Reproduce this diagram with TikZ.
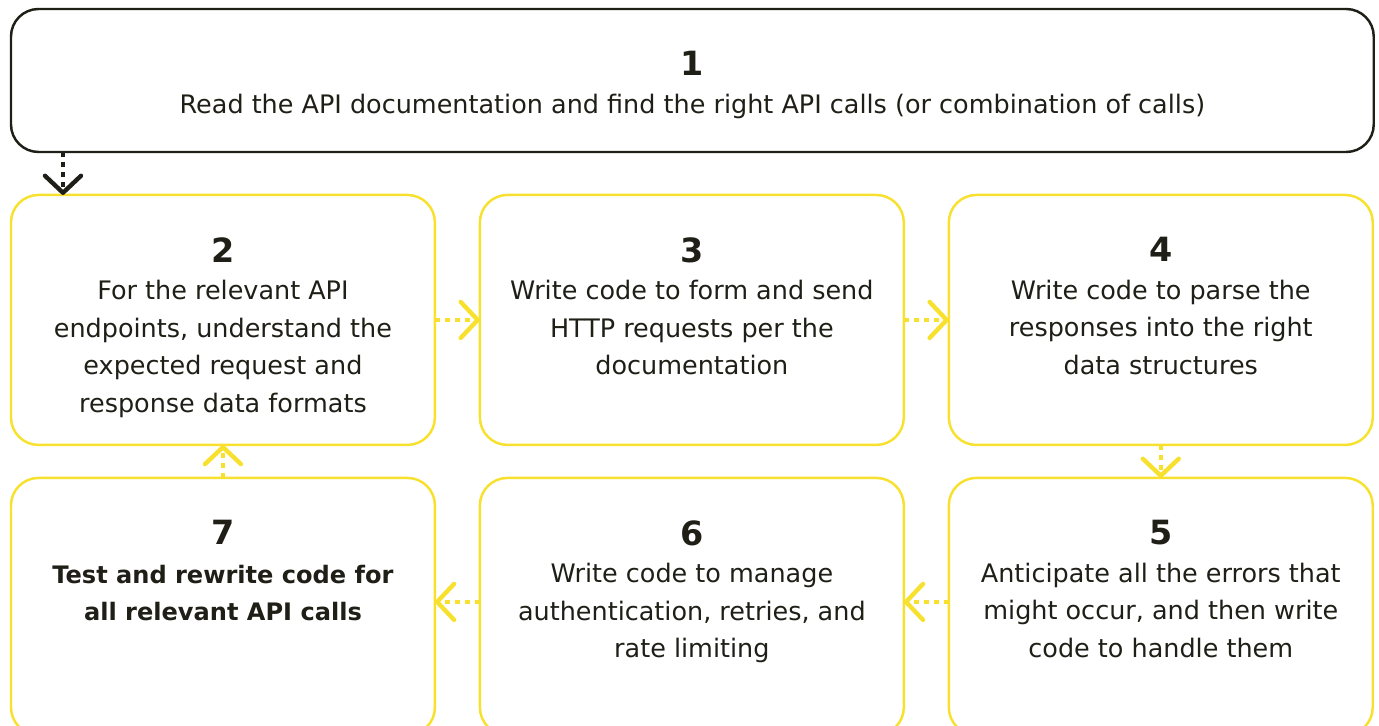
\documentclass[tikz,border=0pt]{standalone}
\usepackage{fontspec}
\setmainfont{DejaVu Sans}
\usetikzlibrary{arrows.meta,positioning}
\definecolor{apiInk}{HTML}{1F1F17}
\definecolor{apiYellow}{HTML}{F8E12E}
\newcommand\stepnum[1]{{\fontsize{19}{24}\selectfont\bfseries #1}}

\begin{document}
\begin{tikzpicture}[
  x=0.02cm, y=-0.02cm,
  box/.style={draw=apiYellow, line width=1.4pt, rounded corners=0.55cm, minimum width=8.48cm, minimum height=5cm, inner sep=0pt, outer sep=0pt},
  txt/.style={align=center, inner sep=0pt, text=apiInk, font=\fontsize{14.5}{21.4}\selectfont},
  flow/.style={line width=2.5pt, apiYellow, dash pattern=on 0.1cm off 0.1cm, -{Straight Barb[round, length=0.34cm, width=0.72cm]}},
  node distance=0.9cm,
]
  \useasboundingbox (0,0) rectangle (1379,725);
  \node[box, draw=apiInk, minimum width=27.26cm, minimum height=2.86cm, anchor=north west] (b1) at (11,9) {};
  \node[box, below right=0.86cm and 0cm of b1.south west] (b2) {};
  \node[box, right=of b2] (b3) {};
  \node[box, right=of b3] (b4) {};
  \node[box, minimum height=5.14cm, below=0.66cm of b4] (b5) {};
  \node[box, minimum height=5.14cm, below=0.66cm of b3] (b6) {};
  \node[box, minimum height=5.14cm, below=0.66cm of b2] (b7) {};

  \node[txt, below=0.84cm of b1.north] (t1) {\stepnum{1}\\Read the API documentation and find the right API calls (or combination of calls)};
  \node[txt, below=0.84cm of b2.north] (t2) {\stepnum{2}\\For the relevant API\\endpoints, understand the\\expected request and\\response data formats};
  \node[txt, below=0.84cm of b3.north] (t3) {\stepnum{3}\\Write code to form and send\\HTTP requests per the\\documentation};
  \node[txt, below=0.84cm of b4.north] (t4) {\stepnum{4}\\Write code to parse the\\responses into the right\\data structures};
  \node[txt, below=0.84cm of b5.north] (t5) {\stepnum{5}\\Anticipate all the errors that\\might occur, and then write\\code to handle them};
  \node[txt, below=0.84cm of b6.north] (t6) {\stepnum{6}\\Write code to manage\\authentication, retries, and\\rate limiting};
  \node[txt, below=0.84cm of b7.north, font=\fontsize{13.7}{21.4}\selectfont\bfseries] (t7) {\stepnum{7}\\[0.5pt]Test and rewrite code for\\all relevant API calls};

  \draw[flow, apiInk] ([xshift=1.04cm]b1.south west) -- ([xshift=1.04cm]b2.north west);
  \draw[flow] (b2) -- (b3);
  \draw[flow] (b3) -- (b4);
  \draw[flow] (b4) -- (b5);
  \draw[flow] ([yshift=0.09cm]b5.west) -- ([yshift=0.09cm]b6.east);
  \draw[flow] ([yshift=0.09cm]b6.west) -- ([yshift=0.09cm]b7.east);
  \draw[flow] (b7) -- (b2);
\end{tikzpicture}
\end{document}
